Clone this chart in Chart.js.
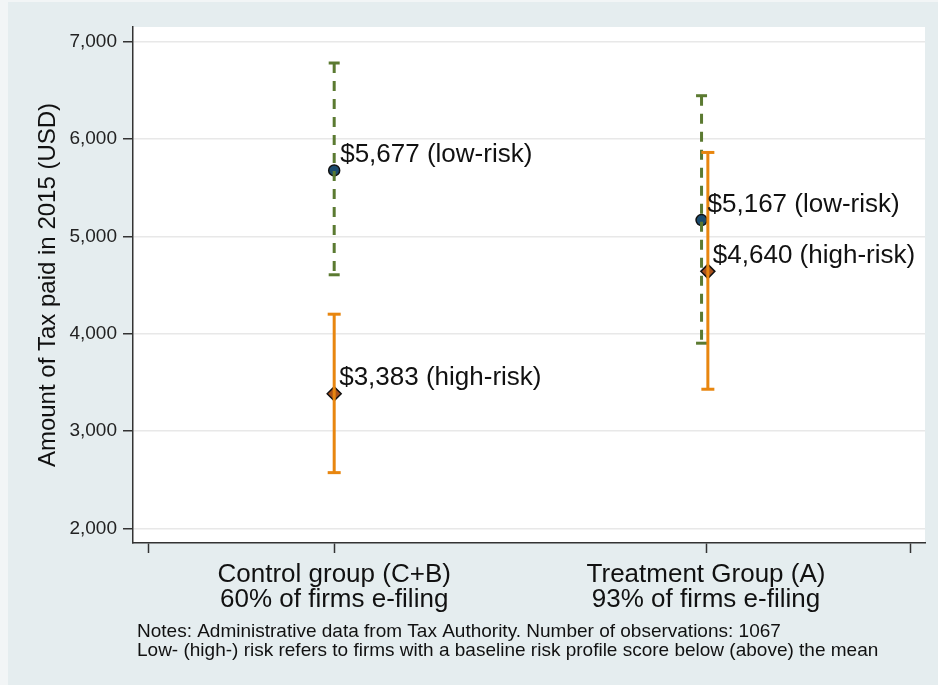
<!DOCTYPE html>
<html>
<head>
<meta charset="utf-8">
<script src="https://cdn.jsdelivr.net/npm/chart.js@4.4.1/dist/chart.umd.min.js"></script>
<style>
  html, body { margin: 0; padding: 0; background: #E5EDEF; }
  canvas { display: block; }
</style>
</head>
<body>
<canvas id="c" width="938" height="685"></canvas>
<script>
// ---------------- data ----------------
const categories = [
  ['Control group (C+B)', '60% of firms e-filing'],
  ['Treatment Group (A)', '93% of firms e-filing']
];
const groupX = [1, 2];
const xTickValues = [0.5, 1, 2, 2.55];
const yTickValues = [2000, 3000, 4000, 5000, 6000, 7000];

const lowRiskX = [1, 1.988];
const lowRiskMean = [5677, 5167];
const lowRiskLower = [4605, 3902];
const lowRiskUpper = [6781, 6445];

const highRiskX = [1, 2.005];
const highRiskMean = [3383, 4640];
const highRiskLower = [2572, 3429];
const highRiskUpper = [4200, 5862];

const yTitle = 'Amount of Tax paid in 2015 (USD)';
const notes = [
  'Notes: Administrative data from Tax Authority. Number of observations: 1067',
  'Low- (high-) risk refers to firms with a baseline risk profile score below (above) the mean'
];

// ---------------- styles ----------------
const FONT = '"Liberation Sans", Arial, Helvetica, sans-serif';
Chart.defaults.font.family = FONT;
const GREEN = '#5B7A31';
const ORANGE = '#E8860F';
const NAVY = '#1B4B6E';
const DIAMOND = '#A9521C';

const fmt = v => v.toLocaleString('en-US');

// ---------------- datasets ----------------
const datasets = [];
datasets.push({
  type: 'scatter',
  data: lowRiskX.map((x, i) => ({ x: x, y: lowRiskMean[i] })),
  pointStyle: 'circle', pointRadius: 5.5,
  pointBackgroundColor: NAVY, pointBorderColor: '#111', pointBorderWidth: 1.5,
  order: 10
});
datasets.push({
  type: 'scatter',
  data: highRiskX.map((x, i) => ({ x: x, y: highRiskMean[i] })),
  pointStyle: 'rectRot', pointRadius: 7,
  pointBackgroundColor: DIAMOND, pointBorderColor: '#111', pointBorderWidth: 1.5,
  order: 9
});
lowRiskX.forEach((x, i) => {
  datasets.push({
    type: 'line', showLine: true, fill: false,
    data: [{ x: x, y: lowRiskUpper[i] }, { x: x, y: lowRiskLower[i] }],
    borderColor: GREEN, borderWidth: 3, borderDash: [10, 8], borderCapStyle: 'butt',
    pointStyle: 'line', pointRadius: 5.5, pointBorderColor: GREEN, pointBorderWidth: 3,
    order: 2
  });
});
highRiskX.forEach((x, i) => {
  datasets.push({
    type: 'line', showLine: true, fill: false,
    data: [{ x: x, y: highRiskUpper[i] }, { x: x, y: highRiskLower[i] }],
    borderColor: ORANGE, borderWidth: 3, borderCapStyle: 'butt',
    pointStyle: 'line', pointRadius: 6.5, pointBorderColor: ORANGE, pointBorderWidth: 3,
    order: 1
  });
});

// ---------------- plugins ----------------
const bgPlugin = {
  id: 'bg',
  beforeDraw(chart) {
    const { ctx, chartArea: a } = chart;
    ctx.save();
    ctx.fillStyle = '#E5EDEF';
    ctx.fillRect(0, 0, chart.width, chart.height);
    ctx.fillStyle = '#F2F5F6';
    ctx.fillRect(0, 0, 8, chart.height);
    ctx.fillRect(0, 0, chart.width, 2);
    ctx.fillStyle = '#FFFFFF';
    ctx.fillRect(a.left, a.top, a.right - a.left, a.bottom - a.top);
    ctx.restore();
  }
};

const labelPlugin = {
  id: 'pointLabels',
  afterDatasetsDraw(chart) {
    const { ctx, scales: { x: xs, y: ys } } = chart;
    ctx.save();
    ctx.font = '26px ' + FONT;
    ctx.fillStyle = '#111';
    ctx.textAlign = 'left';
    ctx.textBaseline = 'alphabetic';
    lowRiskX.forEach((x, i) => {
      const px = xs.getPixelForValue(x), py = ys.getPixelForValue(lowRiskMean[i]);
      ctx.fillText('$' + fmt(lowRiskMean[i]) + ' (low-risk)', px + 6, py - 8.5);
    });
    highRiskX.forEach((x, i) => {
      const px = xs.getPixelForValue(x), py = ys.getPixelForValue(highRiskMean[i]);
      ctx.fillText('$' + fmt(highRiskMean[i]) + ' (high-risk)', px + 5, py - 8.5);
    });
    ctx.restore();
  }
};

const notesPlugin = {
  id: 'notes',
  afterDraw(chart) {
    const { ctx } = chart;
    ctx.save();
    ctx.font = '19px ' + FONT;
    ctx.fillStyle = '#111';
    ctx.textAlign = 'left';
    ctx.textBaseline = 'alphabetic';
    notes.forEach((t, i) => ctx.fillText(t, 137, 637 + i * 19));
    ctx.restore();
  }
};

// ---------------- chart ----------------
new Chart(document.getElementById('c'), {
  type: 'scatter',
  data: { datasets: datasets },
  options: {
    responsive: false,
    animation: false,
    events: [],
    layout: { padding: { top: 27, right: 13, left: 0, bottom: 0 } },
    plugins: { legend: { display: false }, tooltip: { enabled: false } },
    scales: {
      x: {
        type: 'linear',
        min: 0.4589, max: 2.589,
        afterBuildTicks: s => { s.ticks = xTickValues.map(v => ({ value: v })); },
        afterFit: s => { s.height = 142; },
        ticks: {
          autoSkip: false, maxRotation: 0, minRotation: 0, padding: 9,
          color: '#111',
          font: { size: 26, lineHeight: 0.96 },
          callback: v => { const i = groupX.indexOf(v); return i >= 0 ? categories[i] : ''; }
        },
        grid: { drawOnChartArea: false, drawTicks: true, tickLength: 10, tickColor: '#333', tickWidth: 1.5 },
        border: { display: true, color: '#333', width: 1.5 }
      },
      y: {
        type: 'linear',
        min: 1849, max: 7151,
        afterBuildTicks: s => { s.ticks = yTickValues.map(v => ({ value: v })); },
        afterFit: s => { s.width = 133; },
        ticks: {
          padding: 6, color: '#222',
          font: { size: 19 },
          callback: v => fmt(v)
        },
        grid: { color: '#E8E8E8', lineWidth: 1.5, tickLength: 10, tickColor: '#333', tickWidth: 1.5 },
        border: { display: true, color: '#333', width: 1.5 },
        title: {
          display: true, text: yTitle, color: '#111',
          font: { size: 24 },
          padding: { top: 34, bottom: 0 }
        }
      }
    }
  },
  plugins: [bgPlugin, labelPlugin, notesPlugin]
});
</script>
</body>
</html>
